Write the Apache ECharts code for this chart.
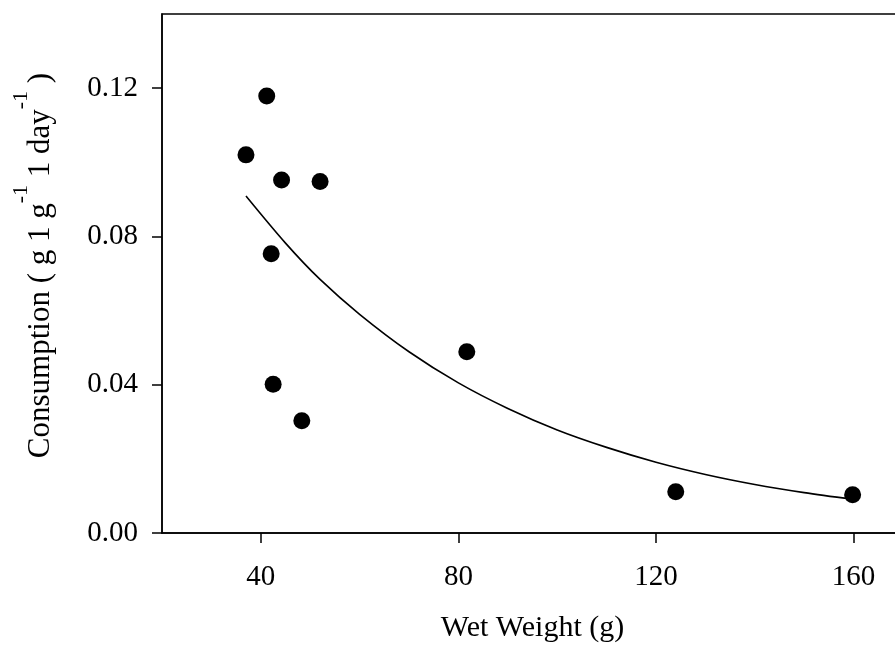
<!DOCTYPE html>
<html>
<head>
<meta charset="utf-8">
<script src="https://cdn.jsdelivr.net/npm/echarts@6/dist/echarts.min.js"></script>
<style>
  html, body { margin: 0; padding: 0; background: #fff; }
  #chart { width: 895px; height: 654px; }
</style>
</head>
<body>
<div id="chart"></div>
<script>
const WEIGHTS = [37.0, 41.2, 44.2, 52.0, 42.1, 42.5, 48.3, 81.7, 124.0, 159.8];
const CONSUMPTION = [0.1020, 0.1179, 0.0952, 0.0948, 0.0753, 0.0401, 0.0303, 0.0489, 0.0111, 0.0103];
const FIT_X = [37, 45, 52, 60, 70, 80, 90, 100, 110, 120, 130, 140, 150, 159.8];
const FIT_Y = [0.0909, 0.0782, 0.0684, 0.0590, 0.0489, 0.0405, 0.0336, 0.0278, 0.0231, 0.0191, 0.0158, 0.0131, 0.0109, 0.0091];
const X_TICKS = [40, 80, 120, 160];
const Y_TICKS = [0, 0.04, 0.08, 0.12];

const FONT = "Liberation Serif";

function pairs(xs, ys) {
  return xs.map((x, i) => [x, ys[i]]);
}

const chart = echarts.init(document.getElementById("chart"));

chart.setOption({
  animation: false,
  grid: {
    left: 162,
    top: 14,
    width: 741,
    height: 519,
    outerBoundsMode: "none",
    containLabel: false,
    show: true,
    borderColor: "#000",
    borderWidth: 1.5,
  },
  xAxis: {
    type: "value",
    min: 20,
    max: 170,
    name: "Wet Weight (g)",
    nameLocation: "middle",
    nameGap: 80,
    nameTextStyle: { fontFamily: FONT, fontSize: 30, color: "#000" },
    splitLine: { show: false },
    axisLine: { onZero: false, lineStyle: { color: "#000", width: 1.5 } },
    axisTick: { customValues: X_TICKS, length: 10, lineStyle: { color: "#000", width: 1.5 } },
    axisLabel: {
      customValues: X_TICKS,
      margin: 30,
      fontFamily: FONT,
      fontSize: 29,
      color: "#000",
    },
  },
  yAxis: {
    type: "value",
    min: 0,
    max: 0.14,
    name: "{a|Consumption ( g 1 g}{s|-1}{a| 1 day}{s|-1}{a| )}",
    nameLocation: "middle",
    nameRotate: 90,
    nameGap: 90,
    nameTextStyle: {
      color: "#000",
      padding: [0, 0, 0, 16],
      rich: {
        a: { fontFamily: FONT, fontSize: 31, color: "#000" },
        s: { fontFamily: FONT, fontSize: 22, color: "#000", padding: [0, 0, 40, 0] },
      },
    },
    splitLine: { show: false },
    axisLine: { lineStyle: { color: "#000", width: 1.5 } },
    axisTick: { customValues: Y_TICKS, length: 10, lineStyle: { color: "#000", width: 1.5 } },
    axisLabel: {
      customValues: Y_TICKS,
      margin: 24,
      fontFamily: FONT,
      fontSize: 29,
      color: "#000",
      formatter: (value) => value.toFixed(2),
    },
  },
  series: [
    {
      name: "fit",
      type: "line",
      data: pairs(FIT_X, FIT_Y),
      smooth: 0.3,
      showSymbol: false,
      lineStyle: { color: "#000", width: 1.6 },
    },
    {
      name: "observed",
      type: "scatter",
      data: pairs(WEIGHTS, CONSUMPTION),
      symbolSize: 17,
      itemStyle: { color: "#000", opacity: 1 },
    },
  ],
});
</script>
</body>
</html>
